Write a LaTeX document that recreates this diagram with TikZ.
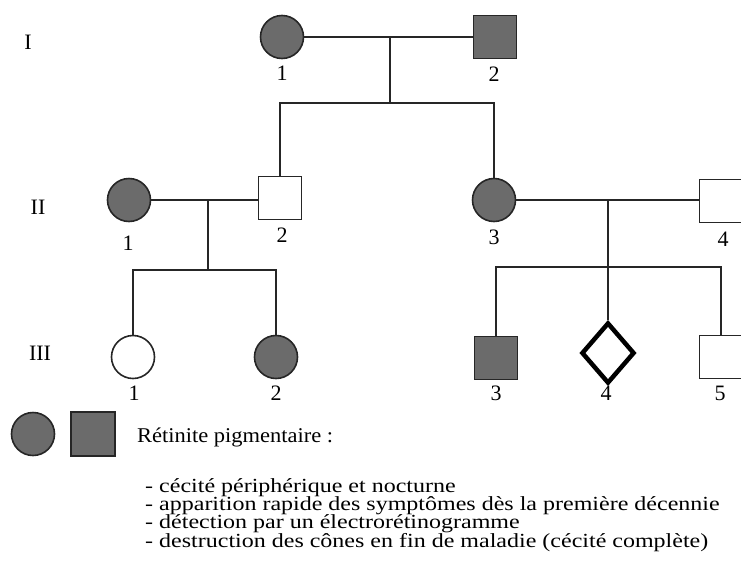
\documentclass[tikz,border=0pt]{standalone}
\usepackage{fontspec}
\setmainfont{Liberation Serif}
\newfontfamily\legfont[FakeStretch=1.2]{Liberation Serif}
\newfontfamily\titfont[FakeStretch=1.07]{Liberation Serif}
\usetikzlibrary{shapes.geometric}
\begin{document}
\begin{tikzpicture}[x=1pt,y=-1pt,
  line/.style={line width=1.9pt, draw=black!85},
  aff/.style={fill=black!58, draw=black!85, line width=1.6pt},
  unaff/.style={fill=white, draw=black!85, line width=1.6pt},
  fem/.style={circle, minimum size=43pt, inner sep=0pt},
  mal/.style={rectangle, minimum size=43pt, inner sep=0pt},
  unk/.style={diamond, minimum width=53pt, minimum height=61pt, inner sep=0pt, draw=black, line width=4.5pt, fill=white},
  num/.style={font=\fontsize{22}{22}\selectfont, inner sep=0pt},
  gen/.style={font=\fontsize{22}{22}\selectfont, inner sep=0pt},
  leg/.style={font=\legfont\fontsize{20}{18.4}\selectfont, align=left, anchor=north west, inner sep=0pt}]
\useasboundingbox (0,0) rectangle (741,568);
\fill[white] (0,0) rectangle (741,568);

% generation labels
\node[gen] (gI) at (28,42) {I};
\node[gen] (gII) at (38,207) {II};
\node[gen] (gIII) at (40,353) {III};

% generation I
\node[fem,aff] (I1) at (282,37) {};
\node[mal,aff] (I2) at (495,37) {};
\node[num] (nI1) at (282,73) {1};
\node[num] (nI2) at (494,74) {2};

% generation II
\node[fem,aff] (II1) at (129,200) {};
\node[mal,unaff] (II2) at (280,198) {};
\node[fem,aff] (II3) at (494,200) {};
\node[mal,unaff] (II4) at (721,201) {};
\node[num] (nII1) at (128,243) {1};
\node[num] (nII2) at (282,235) {2};
\node[num] (nII3) at (494,237) {3};
\node[num] (nII4) at (723,239) {4};

% generation III
\node[fem,unaff] (III1) at (133,357) {};
\node[fem,aff] (III2) at (276,357) {};
\node[mal,aff] (III3) at (496,358) {};
\node[unk] (III4) at (608,353) {};
\node[mal,unaff] (III5) at (721,357) {};
\node[num] (nIII1) at (134,393) {1};
\node[num] (nIII2) at (276,393) {2};
\node[num] (nIII3) at (496,393) {3};
\node[num] (nIII4) at (606,393) {4};
\node[num] (nIII5) at (720,393) {5};

% connectors
\coordinate (m1) at (390,37);
\coordinate (s1) at (390,103);
\draw[line] (I1) -- (I2);
\draw[line] (m1) -- (s1);
\draw[line] (II2.north) |- (s1) -| (II3.north);

\coordinate (m2) at (208,200);
\coordinate (s2) at (208,270);
\draw[line] (II1.east) -- (II1.east -| II2.west);
\draw[line] (m2) -- (s2);
\draw[line] (III1.north) |- (s2) -| (III2.north);

\coordinate (m3) at (608,200);
\coordinate (s3) at (608,267);
\draw[line] (II3.east) -- (II3.east -| II4.west);
\draw[line] (m3) -- (III4.north);
\draw[line] (III3.north) |- (s3) -| (III5.north);

% legend
\node[fem,aff] (L1) at (33,434) {};
\node[mal,aff,minimum size=44pt] (L2) at (93,434) {};
\node[anchor=base west, inner sep=0pt, font=\titfont\fontsize{21}{21}\selectfont] (Lt) at (137,442) {Rétinite pigmentaire :};
\node[leg] (bl) at (145,478) {- cécité périphérique et nocturne\\
- apparition rapide des symptômes dès la première décennie\\
- détection par un électrorétinogramme\\
- destruction des cônes en fin de maladie (cécité complète)};
\end{tikzpicture}
\end{document}
